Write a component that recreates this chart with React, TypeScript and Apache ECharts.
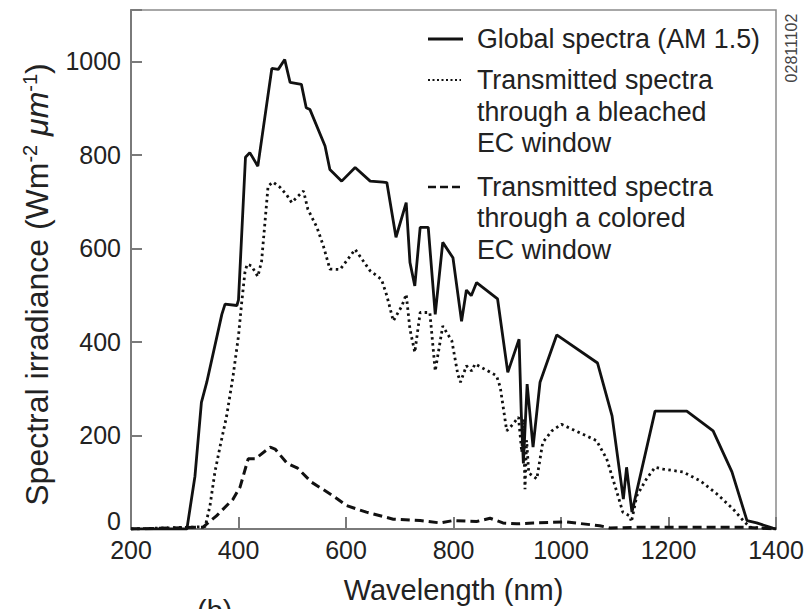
import React, { useEffect, useRef } from "react";
import * as echarts from "echarts";

const FONT = '"Liberation Sans", Arial, Helvetica, sans-serif';

// Global spectra (AM 1.5)
const globalNm = [200, 300, 304, 319, 331, 341, 369, 375, 397, 400, 413, 421, 436, 462, 474, 486, 496, 517, 526, 533, 561, 570, 592, 617, 645, 669, 676, 693, 712, 719, 728, 738, 753, 766, 780, 799, 815, 824, 833, 843, 882, 901, 922, 926, 930, 937, 948, 961, 992, 1068, 1095, 1116, 1122, 1132, 1175, 1234, 1283, 1318, 1346, 1364, 1394, 1400];
const globalVal = [0, 0, 0, 113, 271, 314, 459, 481, 478, 490, 795, 805, 776, 985, 983, 1004, 955, 951, 901, 897, 819, 769, 744, 773, 744, 742, 741, 624, 698, 570, 520, 645, 645, 459, 613, 580, 444, 511, 499, 527, 492, 335, 406, 250, 140, 310, 175, 314, 415, 355, 242, 64, 132, 36, 252, 252, 210, 122, 18, 13, 2, 0];

// Transmitted spectra through a bleached EC window
const bleachedNm = [200, 338, 347, 356, 366, 378, 390, 400, 406, 412, 416, 424, 436, 443, 455, 464, 477, 490, 499, 511, 521, 529, 546, 558, 570, 589, 617, 645, 666, 676, 688, 704, 712, 719, 728, 738, 756, 766, 780, 797, 808, 813, 824, 834, 840, 880, 887, 899, 908, 921, 927, 930, 933, 936, 940, 955, 966, 983, 1001, 1066, 1085, 1104, 1115, 1128, 1131, 1141, 1159, 1175, 1190, 1227, 1259, 1290, 1320, 1339, 1351, 1400];
const bleachedVal = [0, 5, 50, 121, 178, 242, 328, 413, 485, 549, 566, 563, 540, 573, 733, 742, 731, 714, 698, 712, 723, 684, 645, 605, 556, 555, 598, 552, 534, 499, 445, 477, 502, 427, 378, 463, 463, 338, 434, 402, 331, 314, 349, 338, 353, 328, 303, 210, 221, 239, 164, 235, 85, 190, 120, 107, 185, 210, 224, 189, 150, 79, 36, 28, 15, 71, 107, 132, 128, 122, 103, 75, 43, 18, 4, 0];

// Transmitted spectra through a colored EC window
const coloredNm = [200, 334, 359, 390, 403, 418, 431, 459, 468, 490, 510, 536, 576, 601, 638, 688, 738, 775, 799, 843, 868, 892, 918, 948, 1010, 1072, 1091, 1150, 1340, 1400];
const coloredVal = [0, 4, 28, 64, 90, 150, 150, 175, 171, 141, 130, 100, 71, 50, 36, 21, 18, 13, 18, 16, 23, 13, 11, 13, 15, 7, 2, 4, 4, 0];

const xTicks = [200, 400, 600, 800, 1000, 1200, 1400];
const yTicks = [0, 200, 400, 600, 800, 1000];

const legendLines = [
  { text: "Global spectra (AM 1.5)", y: 39 },
  { text: "Transmitted spectra", y: 80 },
  { text: "through a bleached", y: 112 },
  { text: "EC window", y: 143 },
  { text: "Transmitted spectra", y: 187 },
  { text: "through a colored", y: 218 },
  { text: "EC window", y: 250 },
];

const pairs = (xs: number[], ys: number[]) => xs.map((x, i) => [x, ys[i]]);

export default function App() {
  const ref = useRef<HTMLDivElement>(null);
  useEffect(() => {
    if (!ref.current) return;
    const chart = echarts.init(ref.current, null, { renderer: "svg" });
    const ink = "#111";
    const axisGray = "#7a7a7a";
    chart.setOption({
      animation: false,
      backgroundColor: "#fff",
      grid: {
        left: 131,
        right: 31,
        top: 10,
        bottom: 79,
        show: true,
        borderColor: "#8a8a8a",
        borderWidth: 1.5,
      },
      xAxis: {
        type: "value",
        min: xTicks[0],
        max: xTicks[xTicks.length - 1],
        interval: 200,
        name: "Wavelength (nm)",
        nameLocation: "middle",
        nameGap: 46,
        nameTextStyle: { fontFamily: FONT, fontSize: 29, color: "#222" },
        axisLine: { show: true, lineStyle: { color: axisGray, width: 2 } },
        axisTick: { show: true, inside: true, length: 12, lineStyle: { color: axisGray, width: 2 } },
        axisLabel: {
          fontFamily: FONT,
          fontSize: 25,
          color: "#222",
          margin: 8,
          formatter: (v: number) => (xTicks.indexOf(v) < 0 ? "" : String(v)),
        },
        splitLine: { show: false },
      },
      yAxis: {
        type: "value",
        min: 0,
        max: 1110,
        interval: 200,
        name: "Spectral irradiance (Wm{sup|-2} {it|μm}{sup|-1})",
        nameLocation: "middle",
        nameRotate: 90,
        nameGap: 74,
        nameTextStyle: {
          fontFamily: FONT,
          fontSize: 32,
          color: "#222",
          lineHeight: 34,
          padding: [0, 30, 0, 0],
          rich: {
            sup: { fontFamily: FONT, fontSize: 20, color: "#222", lineHeight: 20, verticalAlign: "top" },
            it: { fontFamily: FONT, fontSize: 32, color: "#222", fontStyle: "italic", lineHeight: 34 },
          },
        },
        axisLine: { show: true, lineStyle: { color: axisGray, width: 2 } },
        axisTick: { show: true, inside: true, length: 11, lineStyle: { color: axisGray, width: 2 } },
        axisLabel: {
          fontFamily: FONT,
          fontSize: 25,
          color: "#222",
          margin: 10,
          formatter: (v: number) => (yTicks.indexOf(v) < 0 ? "" : v === 0 ? "{z|0}" : String(v)),
          rich: { z: { fontFamily: FONT, fontSize: 25, color: "#222", padding: [0, 0, 16, 0] } },
        },
        splitLine: { show: false },
      },
      series: [
        {
          name: "Transmitted spectra through a colored EC window",
          type: "line",
          showSymbol: false,
          data: pairs(coloredNm, coloredVal),
          lineStyle: { color: ink, width: 3, type: [9, 5] },
          z: 3,
        },
        {
          name: "Transmitted spectra through a bleached EC window",
          type: "line",
          showSymbol: false,
          data: pairs(bleachedNm, bleachedVal),
          lineStyle: { color: ink, width: 2.8, type: [2.5, 3.5] },
          z: 4,
        },
        {
          name: "Global spectra (AM 1.5)",
          type: "line",
          showSymbol: false,
          data: pairs(globalNm, globalVal),
          lineStyle: { color: ink, width: 2.8 },
          z: 5,
        },
      ],
      graphic: [
        { type: "line", shape: { x1: 428, y1: 39, x2: 463, y2: 39 }, style: { stroke: ink, lineWidth: 2.8 } },
        { type: "line", shape: { x1: 428, y1: 80, x2: 461, y2: 80 }, style: { stroke: ink, lineWidth: 2.2, lineDash: [2, 2.5] } },
        { type: "line", shape: { x1: 428, y1: 187, x2: 462, y2: 187 }, style: { stroke: ink, lineWidth: 2.6, lineDash: [8, 4] } },
        ...legendLines.map((l) => ({
          type: "text",
          x: 477,
          y: l.y,
          style: { text: l.text, fontFamily: FONT, fontSize: 26.8, fill: "#222", verticalAlign: "middle", align: "left" },
        })),
        {
          type: "text",
          x: 791,
          y: 48,
          rotation: Math.PI / 2,
          style: { text: "02811102", fontFamily: FONT, fontSize: 16, fill: "#444", align: "center", verticalAlign: "middle" },
        },
        {
          type: "text",
          x: 197,
          y: 596,
          style: { text: "(b)", fontFamily: FONT, fontSize: 29, fill: "#222", align: "left", verticalAlign: "top" },
        },
      ],
    });
    return () => chart.dispose();
  }, []);
  return <div ref={ref} style={{ position: "fixed", left: 0, top: 0, width: 807, height: 609, background: "#fff" }} />;
}
